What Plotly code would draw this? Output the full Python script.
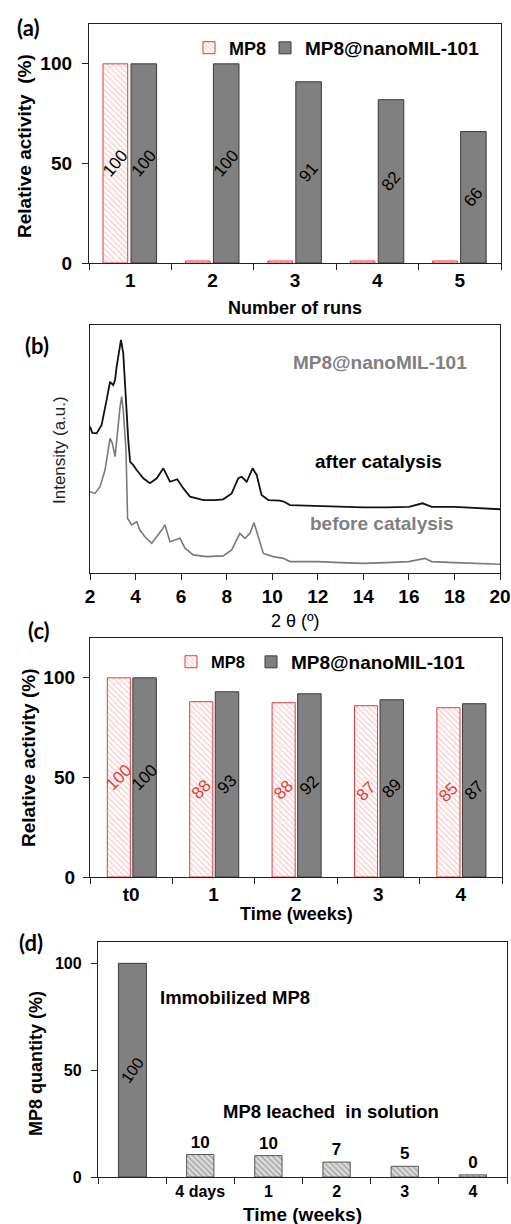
import plotly.graph_objects as go

# ---------------- data ----------------
# (a) reusability
runs = ["1", "2", "3", "4", "5"]
mp8_runs = [100, 1, 1, 1, 1]
mp8_runs_text = ["100", "", "", "", ""]
nano_runs = [100, 100, 91, 82, 66]

# (b) XRD
two_theta_after = [2.0, 2.1, 2.29, 2.51, 2.73, 2.88, 3.02, 3.10, 3.17, 3.29,
                   3.36, 3.46, 3.57, 3.68, 3.76, 3.9, 4.05, 4.34, 4.63, 4.93,
                   5.22, 5.51, 5.83, 6.10, 6.39, 6.98, 7.5, 7.85, 8.22, 8.51,
                   8.66, 8.88, 9.14, 9.32, 9.53, 9.83, 10.34, 10.5, 10.78, 11.5,
                   12, 13, 14, 15, 16, 16.6, 17, 18, 19, 20]
intensity_after = [59, 56.5, 56.3, 59.7, 69.8, 77.1, 75.8, 77.8, 83.2, 91.3,
                   94, 88.6, 69.8, 53.6, 44.9, 43.5, 41.5, 38.2, 36.2, 38.2,
                   42.2, 36.8, 37.8, 34.1, 30.8, 29.4, 29.4, 29.7, 32.1, 38.2,
                   38.8, 36.8, 42.2, 39.5, 31.5, 29.4, 29.2, 28.8, 27.4, 27.2,
                   27, 26.5, 26.5, 26.5, 26.7, 28.1, 26.7, 26.7, 26.3, 25.7]
two_theta_before = [2.0, 2.22, 2.44, 2.66, 2.88, 2.98, 3.10, 3.20, 3.32, 3.39,
                    3.46, 3.58, 3.65, 3.83, 4.05, 4.19, 4.41, 4.71, 4.93, 5.15,
                    5.29, 5.51, 5.73, 5.95, 6.17, 6.53, 7.12, 7.85, 8.22, 8.44,
                    8.58, 8.80, 9.02, 9.20, 9.39, 9.61, 10.05, 10.49, 10.78, 12,
                    13, 14, 15, 16, 16.7, 17, 18, 19, 20]
intensity_before = [32.8, 32.1, 34.8, 41.5, 54.3, 52.3, 46.9, 56.3, 67.1, 71.1,
                    65.7, 49.6, 22, 19.4, 20.7, 17.3, 14.6, 12, 14.6, 17.3,
                    19.4, 12.6, 13.3, 14, 10, 7.3, 6.6, 6.9, 9.3, 13.3,
                    16, 14, 16, 20.3, 14.6, 7.9, 6.6, 5.9, 4.6, 4.6,
                    4.2, 3.9, 4.2, 4.6, 5.9, 4.6, 4.2, 3.9, 3.5]

# (c) storage stability
weeks_c = ["t0", "1", "2", "3", "4"]
mp8_weeks = [100, 88, 87.5, 86, 85]
mp8_weeks_text = ["100", "88", "88", "87", "85"]
nano_weeks = [100, 93, 92, 89, 87]

# (d) leaching
immob_cat = [" "]
immob_val = [100]
leach_cats = ["4 days", "1", "2", "3", "4"]
leach_vals = [10.5, 10, 7, 5, 1]
leach_text = ["10", "10", "7", "5", "0"]

# ---------------- layout helpers ----------------
W, H = 511, 1224
def X(px):
    return px / W
def Y(py):
    return 1 - py / H

FONT = "Liberation Sans, Arial, sans-serif"
RED = "#e23b3b"
GRAY = "#808080"
DARK = "#3a3a3a"

fig = go.Figure()

# (a)
fig.add_trace(go.Bar(
    x=runs, y=mp8_runs, text=mp8_runs_text, name="MP8",
    xaxis="x", yaxis="y", legend="legend",
    width=0.30, offset=-0.33,
    marker=dict(color="white", line=dict(color=RED, width=1),
                pattern=dict(shape="\\", fgcolor="#f19c9c", size=4, solidity=0.35,
                             fillmode="overlay")),
    textposition="inside", insidetextanchor="middle", textangle=-50,
    constraintext="none",
    textfont=dict(family=FONT, size=17, color="black"),
))
fig.add_trace(go.Bar(
    x=runs, y=nano_runs, text=[str(v) for v in nano_runs], name="MP8@nanoMIL-101",
    xaxis="x", yaxis="y", legend="legend2",
    width=0.31, offset=0.01,
    marker=dict(color=GRAY, line=dict(color=DARK, width=1)),
    textposition="inside", insidetextanchor="middle", textangle=-50,
    constraintext="none",
    textfont=dict(family=FONT, size=17, color="black"),
))

# (b)
fig.add_trace(go.Scatter(
    x=two_theta_after, y=intensity_after, mode="lines", xaxis="x2", yaxis="y2",
    line=dict(color="#111111", width=1.8), showlegend=False, name="after catalysis"))
fig.add_trace(go.Scatter(
    x=two_theta_before, y=intensity_before, mode="lines", xaxis="x2", yaxis="y2",
    line=dict(color="#7a7a7a", width=1.6), showlegend=False, name="before catalysis"))

# (c)
fig.add_trace(go.Bar(
    x=weeks_c, y=mp8_weeks, text=mp8_weeks_text, name="MP8",
    xaxis="x3", yaxis="y3", legend="legend3",
    width=0.28, offset=-0.29,
    marker=dict(color="white", line=dict(color=RED, width=1),
                pattern=dict(shape="\\", fgcolor="#f19c9c", size=4, solidity=0.35,
                             fillmode="overlay")),
    textposition="inside", insidetextanchor="middle", textangle=-45,
    constraintext="none",
    textfont=dict(family=FONT, size=17, color=RED),
))
fig.add_trace(go.Bar(
    x=weeks_c, y=nano_weeks, text=[str(v) for v in nano_weeks], name="MP8@nanoMIL-101",
    xaxis="x3", yaxis="y3", legend="legend4",
    width=0.285, offset=0.02,
    marker=dict(color=GRAY, line=dict(color=DARK, width=1)),
    textposition="inside", insidetextanchor="middle", textangle=-45,
    constraintext="none",
    textfont=dict(family=FONT, size=17, color="black"),
))

# (d)
fig.add_trace(go.Bar(
    x=immob_cat, y=immob_val, text=["100"], xaxis="x4", yaxis="y4",
    width=0.41, offset=-0.2, showlegend=False, name="Immobilized MP8",
    marker=dict(color=GRAY, line=dict(color=DARK, width=1)),
    textposition="inside", insidetextanchor="middle", textangle=-55,
    constraintext="none",
    textfont=dict(family=FONT, size=16, color="black"),
))
fig.add_trace(go.Bar(
    x=leach_cats, y=leach_vals, text=leach_text, xaxis="x4", yaxis="y4",
    width=0.40, offset=-0.2, showlegend=False, name="MP8 leached in solution",
    marker=dict(color="#dcdcdc", line=dict(color="#555555", width=1),
                pattern=dict(shape="\\", fgcolor="#6a6a6a", size=4, solidity=0.35,
                             fillmode="overlay")),
    textposition="outside", textangle=0, constraintext="none", cliponaxis=False,
    textfont=dict(family=FONT, size=17, color="black", weight="bold"),
))

tickfont = dict(family=FONT, size=19, color="black", weight="bold")
axis_common = dict(showline=True, linecolor="#222222", linewidth=1.3, mirror=True,
                   showgrid=False, zeroline=False, ticks="outside", tickcolor="#222222",
                   ticklen=6, tickwidth=1.3, tickfont=tickfont, automargin=False)

fig.update_layout(
    template="none",
    width=W, height=H, autosize=False,
    margin=dict(l=0, r=0, t=0, b=0, pad=0),
    paper_bgcolor="white", plot_bgcolor="white",
    font=dict(family=FONT, color="black"),
    barmode="group",
    xaxis=dict(axis_common, domain=[X(89), X(501)], anchor="y", type="category",
               tickson="boundaries", categoryorder="array", categoryarray=runs),
    yaxis=dict(axis_common, domain=[Y(263), Y(24)], anchor="x", range=[0, 120],
               tickvals=[0, 50, 100], ticklabelstandoff=6),
    xaxis2=dict(axis_common, domain=[X(90), X(500)], anchor="y2", range=[2, 20],
                tickvals=[2, 4, 6, 8, 10, 12, 14, 16, 18, 20]),
    yaxis2=dict(axis_common, domain=[Y(573), Y(325)], anchor="x2", range=[0, 100],
                ticks="", showticklabels=False),
    xaxis3=dict(axis_common, domain=[X(90), X(502)], anchor="y3", type="category",
                tickson="boundaries", categoryorder="array", categoryarray=weeks_c),
    yaxis3=dict(axis_common, domain=[Y(877), Y(638)], anchor="x3", range=[0, 120],
                tickvals=[0, 50, 100], ticklabelstandoff=4),
    xaxis4=dict(axis_common, domain=[X(98), X(507)], anchor="y4", type="category",
                tickson="boundaries", categoryorder="array",
                categoryarray=immob_cat + leach_cats,
                tickfont=dict(family=FONT, size=16, color="black", weight="bold")),
    yaxis4=dict(axis_common, domain=[Y(1177), Y(942)], anchor="x4", range=[0, 110],
                tickvals=[0, 50, 100], ticklabelstandoff=6,
                tickfont=dict(family=FONT, size=16, color="black", weight="bold")),
    legend=dict(x=X(189), y=Y(48), xanchor="left", yanchor="middle",
                orientation="h", bgcolor="rgba(0,0,0,0)",
                font=dict(family=FONT, size=18, color="black", weight="bold")),
    legend2=dict(x=X(265), y=Y(48), xanchor="left", yanchor="middle",
                 orientation="h", bgcolor="rgba(0,0,0,0)",
                 font=dict(family=FONT, size=19, color="black", weight="bold")),
    legend3=dict(x=X(171), y=Y(662), xanchor="left", yanchor="middle",
                 orientation="h", bgcolor="rgba(0,0,0,0)",
                 font=dict(family=FONT, size=16.5, color="black", weight="bold")),
    legend4=dict(x=X(251), y=Y(662), xanchor="left", yanchor="middle",
                 orientation="h", bgcolor="rgba(0,0,0,0)",
                 font=dict(family=FONT, size=19, color="black", weight="bold")),
)

def ann(text, px, py, size=19, color="black", bold=True, angle=0, xanchor="center",
        family=FONT):
    fig.add_annotation(text=text, x=X(px), y=Y(py), xref="paper", yref="paper",
                       xanchor=xanchor, yanchor="middle", showarrow=False,
                       textangle=angle,
                       font=dict(family=family, size=size, color=color,
                                 weight="bold" if bold else "normal"))

# panel letters
LETTER = "Lato, Carlito, sans-serif"
ann("(a)", 28, 27, size=22, family=LETTER)
ann("(b)", 37, 345, size=22, family=LETTER)
ann("(c)", 39, 631, size=22, family=LETTER)
ann("(d)", 31, 942, size=22, family=LETTER)

# axis titles
ann("Relative activity  (%)", 24, 146, size=19, angle=-90)
ann("Number of runs", 295, 308, size=18)
ann("Intensity (a.u.)", 59, 450, size=17, bold=False, color="#222222", angle=-90)
ann("2 θ (º)", 295, 621, size=18, bold=False)
ann("Relative activity (%)", 28, 758, size=19, angle=-90)
ann("Time (weeks)", 296, 914, size=18)
ann("MP8 quantity (%)", 36, 1064, size=18, angle=-90)
ann("Time (weeks)", 302, 1214, size=19)

# in-plot labels
ann("MP8@nanoMIL-101", 380, 362, size=19, color="#808080")
ann("after catalysis", 378, 461, size=19, color="black")
ann("before catalysis", 382, 523, size=19, color="#808080")
ann("Immobilized MP8", 235, 997, size=18.5)
ann("MP8 leached  in solution", 331, 1111, size=18.5)

fig.write_html("out.html",
               config={"displayModeBar": False},
               post_script="document.body.style.margin='0';"
                           "document.body.style.overflow='hidden';")
